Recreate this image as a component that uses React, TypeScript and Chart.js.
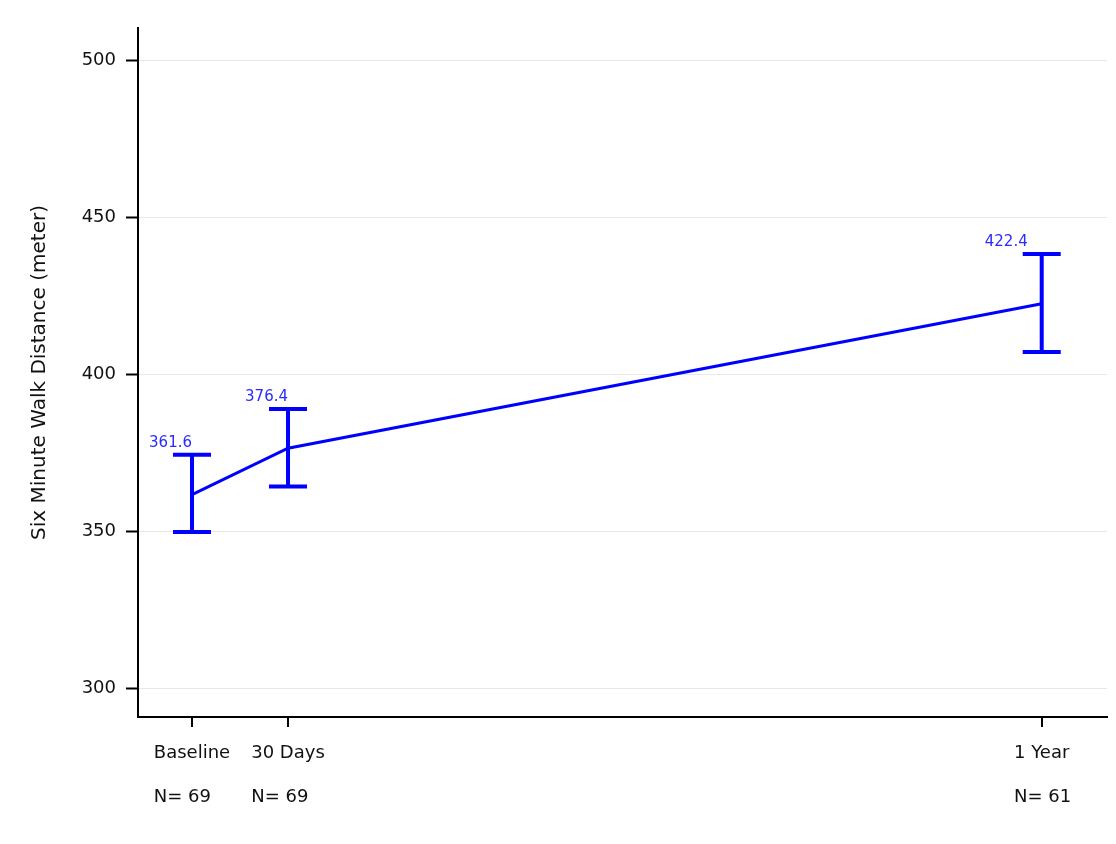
import React, { useEffect, useRef } from "react";
import { Chart, registerables } from "chart.js";

Chart.register(...registerables);

const categories = ["Baseline", "30 Days", "1 Year"];
const sampleSizes = ["N= 69", "N= 69", "N= 61"];
const xPositions = [1, 2, 9.85];
const means = [361.6, 376.4, 422.4];
const upper = [374.3, 388.9, 438.2];
const lower = [349.7, 364.2, 407.0];
const yTicks = [300, 350, 400, 450, 500];

const BLUE = "#0000ff";
const FONT = "'DejaVu Sans', sans-serif";

const errorBarPlugin = {
  id: "errorBars",
  afterDatasetsDraw(chart: any) {
    const { ctx, scales } = chart;
    const xs = scales.x;
    const ys = scales.y;
    ctx.save();
    ctx.strokeStyle = BLUE;
    ctx.lineWidth = 4;
    ctx.lineCap = "butt";
    for (let i = 0; i < means.length; i++) {
      const px = xs.getPixelForValue(xPositions[i]);
      const pu = ys.getPixelForValue(upper[i]);
      const pl = ys.getPixelForValue(lower[i]);
      const hw = 19;
      ctx.beginPath();
      ctx.moveTo(px, pu);
      ctx.lineTo(px, pl);
      ctx.moveTo(px - hw, pu);
      ctx.lineTo(px + hw, pu);
      ctx.moveTo(px - hw, pl);
      ctx.lineTo(px + hw, pl);
      ctx.stroke();
    }
    ctx.fillStyle = "#2b2bff";
    ctx.font = `15px ${FONT}`;
    ctx.textAlign = "right";
    ctx.textBaseline = "bottom";
    for (let i = 0; i < means.length; i++) {
      const px = xs.getPixelForValue(xPositions[i]);
      const pu = ys.getPixelForValue(upper[i]);
      ctx.fillText(means[i].toFixed(1), px - (i === 2 ? 14 : 0), pu - 4);
    }
    ctx.restore();
  },
  afterDraw(chart: any) {
    const { ctx, scales, chartArea } = chart;
    const xs = scales.x;
    ctx.save();
    ctx.fillStyle = "#111";
    ctx.font = `18px ${FONT}`;
    ctx.textBaseline = "middle";
    ctx.textAlign = "left";
    const base = chartArea.bottom;
    for (let i = 0; i < categories.length; i++) {
      const px = xs.getPixelForValue(xPositions[i]);
      const w = ctx.measureText(categories[i]).width;
      const x0 = px - w / 2;
      ctx.fillText(categories[i], x0, base + 36);
      ctx.fillText(sampleSizes[i], x0, base + 80);
    }
    ctx.restore();
  },
};

export default function App() {
  const ref = useRef<HTMLCanvasElement | null>(null);
  useEffect(() => {
    if (!ref.current) return;
    const chart = new Chart(ref.current, {
      type: "line",
      data: {
        datasets: [
          {
            data: xPositions.map((x, i) => ({ x, y: means[i] })),
            borderColor: BLUE,
            borderWidth: 3,
            pointRadius: 0,
            tension: 0,
            fill: false,
          },
        ],
      },
      options: {
        responsive: false,
        animation: false,
        layout: { padding: { top: 28, right: 9, left: 0, bottom: 0 } },
        plugins: {
          legend: { display: false },
          tooltip: { enabled: false },
        },
        scales: {
          x: {
            type: "linear",
            min: 0.4375,
            max: 10.53,
            afterBuildTicks: (s: any) => {
              s.ticks = xPositions.map((v) => ({ value: v }));
            },
            afterFit: (s: any) => {
              s.height = 127;
            },
            ticks: { display: false },
            grid: {
              drawOnChartArea: false,
              color: "#000",
              tickColor: "#000",
              tickLength: 10,
              tickWidth: 2,
              lineWidth: 2,
            },
            border: { display: true, color: "#000", width: 2 },
          },
          y: {
            type: "linear",
            min: 290.8,
            max: 510.2,
            afterBuildTicks: (s: any) => {
              s.ticks = yTicks.map((v) => ({ value: v }));
            },
            afterFit: (s: any) => {
              s.width = 138;
            },
            ticks: {
              color: "#111",
              font: { family: FONT, size: 18 },
              padding: 10,
            },
            grid: {
              color: "#e8e8e8",
              lineWidth: 1,
              tickColor: "#000",
              tickLength: 12,
              tickWidth: 2,
            },
            border: { display: true, color: "#000", width: 2 },
            title: {
              display: true,
              text: "Six Minute Walk Distance (meter)",
              color: "#111",
              font: { family: FONT, size: 20 },
              padding: { top: 28, bottom: 0 },
            },
          },
        },
      },
      plugins: [errorBarPlugin],
    });
    return () => chart.destroy();
  }, []);
  return (
    <div style={{ position: "fixed", left: 0, top: 0, width: 1116, height: 844, background: "#fff" }}>
      <canvas ref={ref} width={1116} height={844} />
    </div>
  );
}
